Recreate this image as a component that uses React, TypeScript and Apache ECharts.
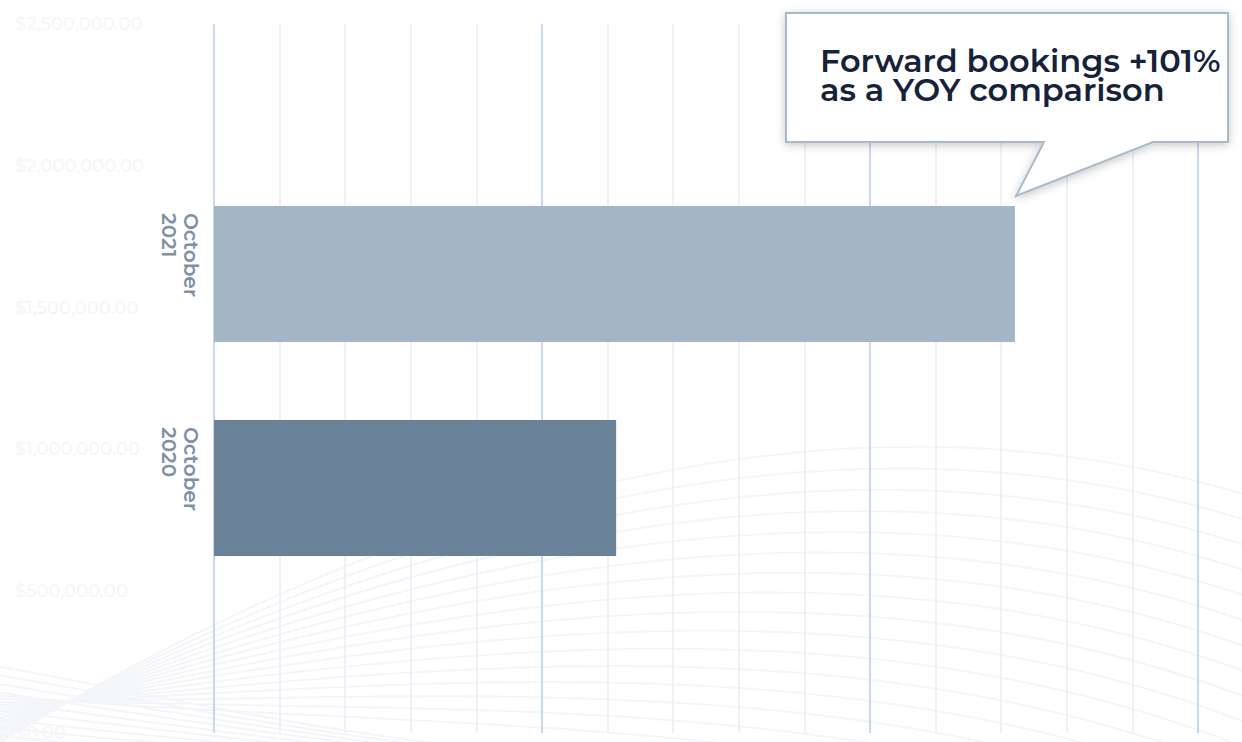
import React, { useEffect, useRef } from 'react';
import * as echarts from 'echarts';

const categories = ['October 2020', 'October 2021'];
const bookings = [613000, 1221000];
const barColors = ['#6b8399', '#a4b5c6'];
const valueTicks = [0, 500000, 1000000, 1500000];
const ghostTicks = [0, 500000, 1000000, 1500000, 2000000, 2500000];
const calloutLines = ['Forward bookings +101%', 'as a YOY comparison'];

const FONT = "Montserrat, 'DejaVu Sans', sans-serif";

function waves() {
  const out: any[] = [];
  for (let i = 0; i < 16; i++) {
    out.push({
      type: 'bezierCurve',
      z: -10,
      silent: true,
      shape: {
        x1: -60, y1: 780 - i * 6,
        cpx1: 420, cpy1: 470 + i * 18,
        cpx2: 900, cpy2: 360 + i * 22,
        x2: 1320, y2: 520 + i * 26,
      },
      style: { stroke: '#f3f5f8', lineWidth: 2, fill: null },
    });
  }
  for (let i = 0; i < 10; i++) {
    out.push({
      type: 'bezierCurve',
      z: -10,
      silent: true,
      shape: {
        x1: -40, y1: 660 + i * 9,
        cpx1: 150, cpy1: 690 + i * 8,
        cpx2: 400, cpy2: 760,
        x2: 700, y2: 760 + i * 4,
      },
      style: { stroke: '#f3f5f8', lineWidth: 2, fill: null },
    });
  }
  return out;
}

export default function App() {
  const ref = useRef<HTMLDivElement>(null);
  useEffect(() => {
    document.body.style.margin = '0';
    const chart = echarts.init(ref.current!, null, { renderer: 'svg' });
    const vMin = valueTicks[0];
    const vMax = valueTicks[valueTicks.length - 1];
    const vInt = valueTicks[1] - valueTicks[0];
    chart.setOption({
      animation: false,
      backgroundColor: '#ffffff',
      grid: [
        { left: 214, right: 44, top: 167, bottom: 147 },
        { left: 214, right: 44, top: 24, bottom: 3 },
      ],
      xAxis: [
        {
          type: 'value', gridIndex: 0, min: vMin, max: vMax, interval: vInt,
          show: false,
        },
        {
          type: 'value', gridIndex: 1, min: vMin, max: vMax, interval: vInt,
          axisLine: { show: false }, axisTick: { show: false }, axisLabel: { show: false },
          splitLine: { show: true, lineStyle: { color: '#cbd6ea', width: 2 } },
          minorTick: { show: false, splitNumber: 5 },
          minorSplitLine: { show: true, lineStyle: { color: '#e9eef6', width: 1.5 } },
        },
      ],
      yAxis: [
        {
          type: 'category', gridIndex: 0, data: categories,
          axisLine: { show: false }, axisTick: { show: false }, splitLine: { show: false },
          axisLabel: {
            rotate: -90,
            margin: 12,
            formatter: (v: string) => v.split(' ').map((s) => `{a|${s}}`).join('\n'),
            rich: {
              a: {
                width: 122, align: 'left', fontSize: 20, fontWeight: 600,
                color: '#7d90a6', lineHeight: 22, fontFamily: FONT,
              },
            },
          },
        },
        {
          type: 'value', gridIndex: 1,
          min: ghostTicks[0], max: ghostTicks[ghostTicks.length - 1],
          interval: ghostTicks[1] - ghostTicks[0],
          axisLine: { show: false }, axisTick: { show: false }, splitLine: { show: false },
          axisLabel: {
            margin: 199, align: 'left', fontSize: 18, fontWeight: 500, fontFamily: FONT,
            color: '#f8f4f7',
            formatter: (v: number) => '$' + v.toLocaleString('en-US', { minimumFractionDigits: 2, maximumFractionDigits: 2 }),
          },
        },
      ],
      series: [
        {
          type: 'bar', xAxisIndex: 0, yAxisIndex: 0, barWidth: 136,
          data: bookings.map((v, i) => ({ value: v, itemStyle: { color: barColors[i] } })),
        },
      ],
      graphic: [
        ...waves(),
        {
          type: 'polygon',
          z: 100,
          shape: {
            points: [[786, 13], [1228, 13], [1228, 142], [1153, 142], [1016, 196], [1044, 142], [786, 142]],
          },
          style: {
            fill: '#ffffff', stroke: '#aab9ca', lineWidth: 2,
            shadowBlur: 10, shadowColor: 'rgba(0,0,0,0.22)', shadowOffsetX: 0, shadowOffsetY: 2,
          },
        },
        {
          type: 'text',
          z: 101,
          left: 820, top: 44,
          style: {
            text: calloutLines.join('\n'),
            font: `600 32px ${FONT}`,
            lineHeight: 29,
            fill: '#16223a',
          },
        },
      ],
    });
    return () => chart.dispose();
  }, []);
  return <div ref={ref} style={{ width: 1242, height: 742 }} />;
}
